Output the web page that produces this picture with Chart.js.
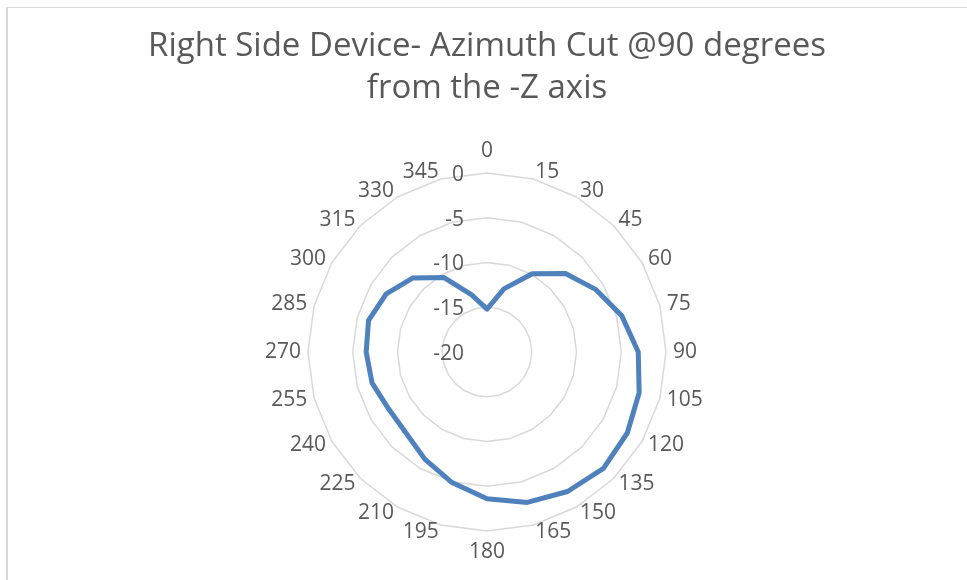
<!DOCTYPE html>
<html>
<head>
<meta charset="utf-8">
<title>Right Side Device - Azimuth Cut</title>
<script src="https://cdn.jsdelivr.net/npm/chart.js@4.4.1/dist/chart.umd.min.js"></script>
<style>
    html, body { margin: 0; padding: 0; background: #ffffff; }
    #wrap { position: relative; width: 967px; height: 580px; overflow: hidden; }
    #frame { position: absolute; left: 6px; top: 7px; width: 959px; height: 600px; border: 1px solid #d9d9d9; border-left-width: 2px; }
    canvas { position: absolute; left: 0; top: 0; }
</style>
</head>
<body>
<div id="wrap">
    <div id="frame"></div>
    <canvas id="radarChart" width="967" height="580"></canvas>
</div>
<script>
// Chart data
const angleLabels = ['0', '15', '30', '45', '60', '75', '90', '105', '120', '135', '150', '165',
                     '180', '195', '210', '225', '240', '255', '270', '285', '300', '315', '330', '345'];
const gainValues = [-15.2, -12.7, -9.9, -7.6, -6.0, -4.4, -3.1, -2.4, -1.9, -1.6, -2.0, -2.6,
                    -3.6, -4.9, -6.15, -7.2, -7.3, -6.7, -6.5, -6.3, -7.0, -8.3, -10.4, -13.4];
const axisMin = -20;
const axisMax = 0;
const axisStep = 5;

const titleLines = ['Right Side Device- Azimuth Cut @90 degrees', 'from the -Z axis'];

const textGrey = '#595959';
const gridGrey = '#d9d9d9';
const lineBlue = '#4f81bd';
const labelFont = "21px 'Open Sans', sans-serif";

Chart.defaults.font.family = "'Open Sans', sans-serif";
Chart.defaults.color = textGrey;

// Excel style labels: angle labels sit just outside the outer ring,
// value labels sit left of the vertical axis, right aligned
const excelLabelsPlugin = {
    id: 'excelLabels',
    afterDraw(chart) {
        const scale = chart.scales.r;
        const ctx = chart.ctx;
        ctx.save();
        ctx.font = labelFont;
        ctx.fillStyle = textGrey;

        // value labels
        ctx.textAlign = 'right';
        ctx.textBaseline = 'middle';
        scale.ticks.forEach(tick => {
            const dist = scale.getDistanceFromCenterForValue(tick.value);
            ctx.fillText(String(tick.value), scale.xCenter - 23, scale.yCenter - dist + 2);
        });

        // angle labels
        const labels = chart.data.labels;
        labels.forEach((label, i) => {
            const pos = scale.getPointPosition(i, scale.drawingArea + 7);
            const dx = pos.x - scale.xCenter;
            let x = pos.x;
            let y = pos.y;
            if (Math.abs(dx) < 1) {
                ctx.textAlign = 'center';
                y += (pos.y < scale.yCenter) ? -14.5 : 14.5;
            } else {
                ctx.textAlign = dx > 0 ? 'left' : 'right';
            }
            ctx.fillText(label, x, y);
        });
        ctx.restore();
    }
};

const ctx = document.getElementById('radarChart').getContext('2d');
new Chart(ctx, {
    type: 'radar',
    data: {
        labels: angleLabels,
        datasets: [{
            label: 'Gain',
            data: gainValues,
            borderColor: lineBlue,
            borderWidth: 5,
            backgroundColor: 'transparent',
            fill: false,
            pointRadius: 0,
            pointHoverRadius: 0,
            tension: 0,
            borderJoinStyle: 'round'
        }]
    },
    options: {
        responsive: false,
        animation: false,
        layout: {
            padding: { top: 0, bottom: 48, left: 14, right: 7 }
        },
        plugins: {
            legend: { display: false },
            tooltip: { enabled: false },
            title: {
                display: true,
                text: titleLines,
                color: textGrey,
                font: { size: 33, weight: 'normal', lineHeight: '42px' },
                padding: { top: 26, bottom: 63 }
            }
        },
        scales: {
            r: {
                min: axisMin,
                max: axisMax,
                beginAtZero: false,
                ticks: { display: false, stepSize: axisStep },
                angleLines: { display: false },
                grid: { circular: false, color: gridGrey, lineWidth: 1.5 },
                pointLabels: { display: false }
            }
        }
    },
    plugins: [excelLabelsPlugin]
});
</script>
</body>
</html>
